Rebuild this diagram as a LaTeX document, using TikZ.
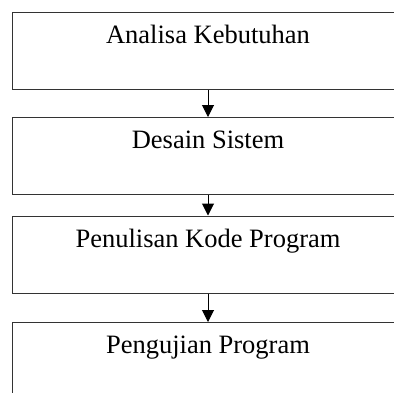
\documentclass[tikz,border=0pt]{standalone}
\usepackage{fontspec}
\setmainfont{Liberation Serif}
\usetikzlibrary{arrows.meta}
\begin{document}
\begin{tikzpicture}[x=1pt,y=1pt,
  stepbox/.style={draw=black!80, line width=1.4pt, rectangle, inner sep=0pt,
    minimum width=391pt, text height=31pt, text depth=46pt, anchor=north,
    font=\fontsize{26.5}{30}\selectfont},
  flow/.style={draw=black, line width=1pt, -{Triangle[width=12pt,length=12pt]}}]
\clip (0,0) rectangle (394,-392);
\fill[white] (0,0) rectangle (394,-392);
\node[stepbox] (a) at (208,-12) {Analisa Kebutuhan};
\node[stepbox] (b) at (208,-117) {Desain Sistem};
\node[stepbox] (c) at (208,-215.5) {Penulisan Kode Program};
\node[stepbox] (d) at (208,-322) {Pengujian Program};
\draw[flow] (a.south) -- (b.north);
\draw[flow] (b.south) -- (c.north);
\draw[flow] (c.south) -- (d.north);
\end{tikzpicture}
\end{document}
